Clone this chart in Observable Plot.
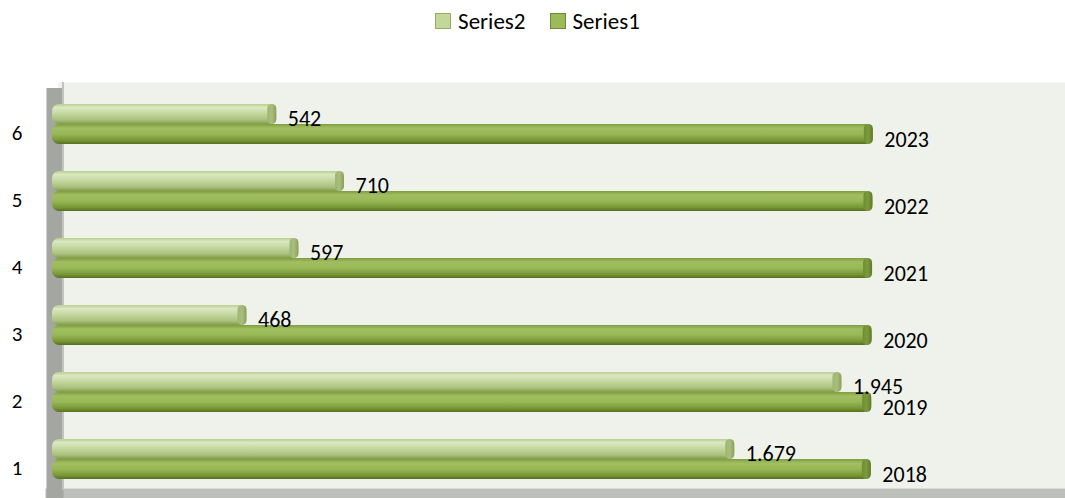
<!DOCTYPE html>
<html>
<head>
<meta charset="utf-8">
<script src="https://cdn.jsdelivr.net/npm/d3@7"></script>
<script src="https://cdn.jsdelivr.net/npm/@observablehq/plot@0.6"></script>
<style>
  html, body { margin: 0; padding: 0; background: #ffffff; }
  body { width: 1065px; height: 498px; overflow: hidden; font-family: Carlito, Lato, "Open Sans", sans-serif; }
  #legend { height: 50px; display: flex; justify-content: center; align-items: flex-start; padding-top: 7px; box-sizing: border-box; font-size: 23px; line-height: 28px; color: #000; gap: 24px; padding-left: 10px; }
  .item { display: flex; align-items: center; gap: 7px; }
  .sw { width: 14px; height: 14px; display: inline-block; }
</style>
</head>
<body>
<div id="legend"></div>
<div id="chart"></div>
<script>
// ---- data ----
const categories = ["1", "2", "3", "4", "5", "6"];
const series1 = [2018, 2019, 2020, 2021, 2022, 2023];
const series2 = [1679, 1945, 468, 597, 710, 542];
const seriesNames = ["Series2", "Series1"];
const seriesFill = ["#c3d69b", "#9bbb59"];
const seriesBorder = ["#93ad5c", "#6f8a37"];

// ---- legend ----
const legend = document.getElementById("legend");
seriesNames.forEach((name, i) => {
  const it = document.createElement("div");
  it.className = "item";
  const sw = document.createElement("span");
  sw.className = "sw";
  sw.style.background = seriesFill[i];
  sw.style.border = "1px solid " + seriesBorder[i];
  it.appendChild(sw);
  const t = document.createElement("span");
  t.textContent = name;
  it.appendChild(t);
  legend.appendChild(it);
});

const rows1 = categories.map((c, i) => ({cat: c, value: series1[i]}));
const rows2 = categories.map((c, i) => ({cat: c, value: series2[i]}));
const locale = d3.formatLocale({decimal: ",", thousands: ".", grouping: [3], currency: ["", ""]});
const fmt2 = locale.format(",d");

const chart = Plot.plot({
  width: 1065,
  height: 448,
  marginTop: 32,
  marginBottom: 10,
  marginLeft: 58,
  marginRight: 0,
  style: {fontFamily: "Carlito, Lato, 'Open Sans', sans-serif", fontSize: "20px", color: "#000", background: "#ffffff"},
  x: {domain: [0, 2500], axis: null},
  y: {domain: categories.slice().reverse(), paddingInner: 0.41, paddingOuter: 0.205, insetTop: 6, insetBottom: -6, axis: null},
  marks: [
    Plot.frame({fill: "#eef2eb", stroke: "none"}),
    Plot.frame({anchor: "bottom", stroke: "#bcbfba", strokeWidth: 10, dy: 5, insetLeft: -8}),
    Plot.ruleX([0], {stroke: "#a4a6a2", strokeWidth: 17, dx: -3.5, insetTop: 6, insetBottom: -10}),
    Plot.ruleX([0], {stroke: "#c2c4c0", strokeWidth: 2, dx: 4.5, insetTop: 0, insetBottom: -2}),
    // y-axis tick labels (category names)
    Plot.text(categories, {y: d => d, text: d => d, frameAnchor: "left", textAnchor: "end", dx: -36, dy: 9, fontSize: 21, fill: "#000"}),
    Plot.barX(rows2, {x: "value", y: "cat", fill: "url(#g2)", insetBottom: 20, insetLeft: -6, rx: 7}),
    Plot.barX(rows2, {x1: "value", x2: "value", y: "cat", fill: "url(#c2)", insetBottom: 20, insetLeft: -9, rx: 4.5}),
    Plot.barX(rows1, {x: "value", y: "cat", fill: "url(#g1)", insetTop: 20, insetLeft: -6, rx: 7}),
    Plot.barX(rows1, {x1: "value", x2: "value", y: "cat", fill: "url(#c1)", insetTop: 20, insetLeft: -9, rx: 4.5}),
    Plot.text(rows2, {x: "value", y: "cat", text: d => fmt2(d.value), textAnchor: "start", dx: 11, dy: -6, fontSize: 22, fill: "#000"}),
    Plot.text(rows1, {x: "value", y: "cat", text: d => String(d.value), textAnchor: "start", dx: 11, dy: 15, fontSize: 22, fill: "#000"})
  ]
});

// gradient definitions for cylinder shading
const svg = d3.select(chart);
const defs = svg.insert("defs", ":first-child");
function grad(id, stops, horizontal) {
  const g = defs.append("linearGradient").attr("id", id)
    .attr("x1", 0).attr("y1", 0).attr("x2", horizontal ? 1 : 0).attr("y2", horizontal ? 0 : 1);
  stops.forEach(([o, c]) => g.append("stop").attr("offset", o).attr("stop-color", c));
}
grad("g2", [[0, "#b9cf8d"], [0.18, "#dbe8c2"], [0.45, "#c6d9a2"], [0.8, "#a9c07c"], [1, "#809c4b"]]);
grad("g1", [[0, "#7f9c40"], [0.2, "#a1bf60"], [0.5, "#98b756"], [0.82, "#789636"], [1, "#566f22"]]);
grad("c2", [[0, "#9fb56e"], [0.5, "#a9bd80"], [1, "#8aa156"]], true);
grad("c1", [[0, "#6f8c33"], [0.5, "#7c9a3e"], [1, "#5f7a29"]], true);

document.getElementById("chart").appendChild(chart);
</script>
</body>
</html>
